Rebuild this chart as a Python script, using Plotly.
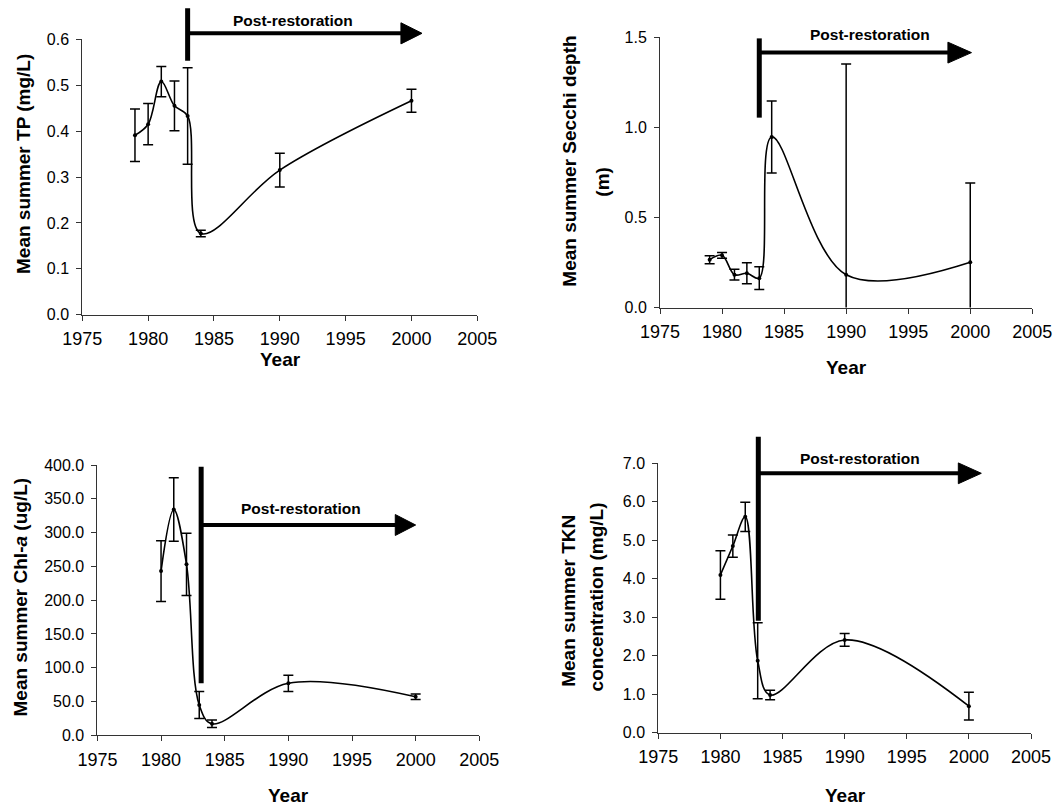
import plotly.graph_objects as go

# ---------------- data ----------------
x_ticks = [1975, 1980, 1985, 1990, 1995, 2000, 2005]

tp_years = [1979, 1980, 1981, 1982, 1983, 1984, 1990, 2000]
tp_mean = [0.391, 0.415, 0.508, 0.455, 0.433, 0.177, 0.315, 0.466]
tp_err = [0.057, 0.045, 0.033, 0.054, 0.105, 0.007, 0.037, 0.025]

secchi_years = [1979, 1980, 1981, 1982, 1983, 1984, 1990, 2000]
secchi_mean = [0.265, 0.290, 0.182, 0.190, 0.163, 0.947, 0.182, 0.251]
secchi_err = [0.022, 0.016, 0.030, 0.058, 0.063, 0.200, 1.170, 0.440]

chla_years = [1980, 1981, 1982, 1983, 1984, 1990, 2000]
chla_mean = [243.0, 334.0, 253.0, 45.0, 17.0, 77.0, 57.0]
chla_err = [45.0, 47.0, 46.0, 20.0, 5.5, 12.0, 4.0]

tkn_years = [1980, 1981, 1982, 1983, 1984, 1990, 2000]
tkn_mean = [4.10, 4.85, 5.61, 1.87, 0.98, 2.41, 0.69]
tkn_err = [0.63, 0.29, 0.38, 0.99, 0.125, 0.165, 0.36]

FONT = "Liberation Sans, Arial, sans-serif"
W, H = 1059, 805


def px_x(p):
    return p / W


def px_y(p):
    return 1 - p / H


panels = [
    dict(years=tp_years, mean=tp_mean, err=tp_err, yrange=[0, 0.6], dtick=0.1,
         xdom=[82.3, 477.3], ydom=[314.7, 39.3],
         arrow=dict(bar_x=1983.0, bar_y=[0.553, 0.6675], line_y=0.613, base=1999.2,
                    tip=2000.8, half=0.023, text_x=1991.0, text_y=0.642)),
    dict(years=secchi_years, mean=secchi_mean, err=secchi_err, yrange=[0, 1.5], dtick=0.5,
         xdom=[660.0, 1032.3], ydom=[307.5, 37.3],
         arrow=dict(bar_x=1983.0, bar_y=[1.054, 1.494], line_y=1.415, base=1998.2,
                    tip=2000.1, half=0.058, text_x=1991.9, text_y=1.513)),
    dict(years=chla_years, mean=chla_mean, err=chla_err, yrange=[0, 400], dtick=50,
         xdom=[97.4, 479.3], ydom=[735.3, 465.0],
         arrow=dict(bar_x=1983.15, bar_y=[76.9, 397.5], line_y=311.2, base=1998.4,
                    tip=2000.0, half=15.5, text_x=1991.0, text_y=335.9)),
    dict(years=tkn_years, mean=tkn_mean, err=tkn_err, yrange=[0, 7], dtick=1,
         xdom=[658.3, 1031.0], ydom=[732.7, 463.3],
         arrow=dict(bar_x=1983.05, bar_y=[2.911, 7.693], line_y=6.74, base=1999.15,
                    tip=2001.0, half=0.27, text_x=1991.2, text_y=7.13)),
]

fig = go.Figure()
shapes = []
annotations = []
AX = "#333333"

for i, p in enumerate(panels, start=1):
    xa = "x" if i == 1 else f"x{i}"
    ya = "y" if i == 1 else f"y{i}"
    fig.add_trace(go.Scatter(
        x=p["years"], y=p["mean"], mode="lines+markers",
        line=dict(color="black", width=1.6, shape="spline", smoothing=1.0),
        marker=dict(color="black", size=4),
        error_y=dict(type="data", array=p["err"], visible=True, color="black",
                     thickness=1.5, width=5),
        xaxis=xa, yaxis=ya, showlegend=False, hoverinfo="skip"))

    axkey_x = "xaxis" if i == 1 else f"xaxis{i}"
    axkey_y = "yaxis" if i == 1 else f"yaxis{i}"
    fig.update_layout({
        axkey_x: dict(domain=[px_x(p["xdom"][0]), px_x(p["xdom"][1])], range=[1975, 2005],
                      tickvals=x_ticks, ticktext=[str(t) for t in x_ticks],
                      showline=True, linecolor=AX, linewidth=1, ticks="outside", ticklen=5,
                      tickcolor=AX, showgrid=False, zeroline=False, anchor=ya,
                      automargin=False,
                      tickfont=dict(family=FONT, size=18, color="black"),
                      ticklabelstandoff=3),
        axkey_y: dict(domain=[px_y(p["ydom"][0]), px_y(p["ydom"][1])], range=p["yrange"],
                      dtick=p["dtick"], tick0=0, tickformat=".1f",
                      showline=True, linecolor=AX, linewidth=1, ticks="outside", ticklen=5,
                      tickcolor=AX, showgrid=False, zeroline=False, anchor=xa,
                      automargin=False,
                      tickfont=dict(family=FONT, size=16, color="black"),
                      ticklabelstandoff=4),
    })

    a = p["arrow"]
    r0, r1 = p["yrange"]

    def dom(v):
        return (v - r0) / (r1 - r0)

    yd = ya + " domain"
    shapes.append(dict(type="line", xref=xa, yref=yd, x0=a["bar_x"], x1=a["bar_x"],
                       y0=dom(a["bar_y"][0]), y1=dom(a["bar_y"][1]),
                       line=dict(color="black", width=5)))
    shapes.append(dict(type="line", xref=xa, yref=yd, x0=a["bar_x"], x1=a["base"] + 0.3,
                       y0=dom(a["line_y"]), y1=dom(a["line_y"]),
                       line=dict(color="black", width=4)))
    path = (f"M{a['base']},{dom(a['line_y'] + a['half'])} "
            f"L{a['tip']},{dom(a['line_y'])} "
            f"L{a['base']},{dom(a['line_y'] - a['half'])} Z")
    shapes.append(dict(type="path", xref=xa, yref=yd, path=path,
                       fillcolor="black", line=dict(color="black", width=1)))
    annotations.append(dict(text="<b>Post-restoration</b>", xref=xa, yref=yd,
                            x=a["text_x"], y=dom(a["text_y"]), showarrow=False,
                            xanchor="center", yanchor="middle",
                            font=dict(family=FONT, size=15.5, color="black")))

# axis titles
title_font = dict(family=FONT, size=19, color="black")
ytitles = [
    ("<b>Mean summer TP (mg/L)</b>", 23, 164),
    ("<b>Mean summer Secchi depth</b>", 570, 161.7),
    ("<b>(m)</b>", 601.7, 182),
    ("<b>Mean summer Chl-<i>a</i> (ug/L)</b>", 20, 597.5),
    ("<b>Mean summer TKN</b>", 569, 600.8),
    ("<b>concentration (mg/L)</b>", 596.7, 596.7),
]
for t, xx, yy in ytitles:
    annotations.append(dict(text=t, xref="paper", yref="paper", x=px_x(xx), y=px_y(yy),
                            textangle=-90, showarrow=False, xanchor="center",
                            yanchor="middle", font=title_font))
xtitles = [(280.7, 360), (846, 368), (288, 795), (845, 795)]
for xx, yy in xtitles:
    annotations.append(dict(text="<b>Year</b>", xref="paper", yref="paper", x=px_x(xx),
                            y=px_y(yy), showarrow=False, xanchor="center",
                            yanchor="middle", font=title_font))

fig.update_layout(width=W, height=H, margin=dict(l=0, r=0, t=0, b=0, autoexpand=False),
                  plot_bgcolor="white", paper_bgcolor="white",
                  shapes=shapes, annotations=annotations,
                  font=dict(family=FONT, color="black"))

fig.write_html("out.html", config={"displayModeBar": False},
               post_script="document.body.style.margin='0';document.body.style.overflow='hidden';")
